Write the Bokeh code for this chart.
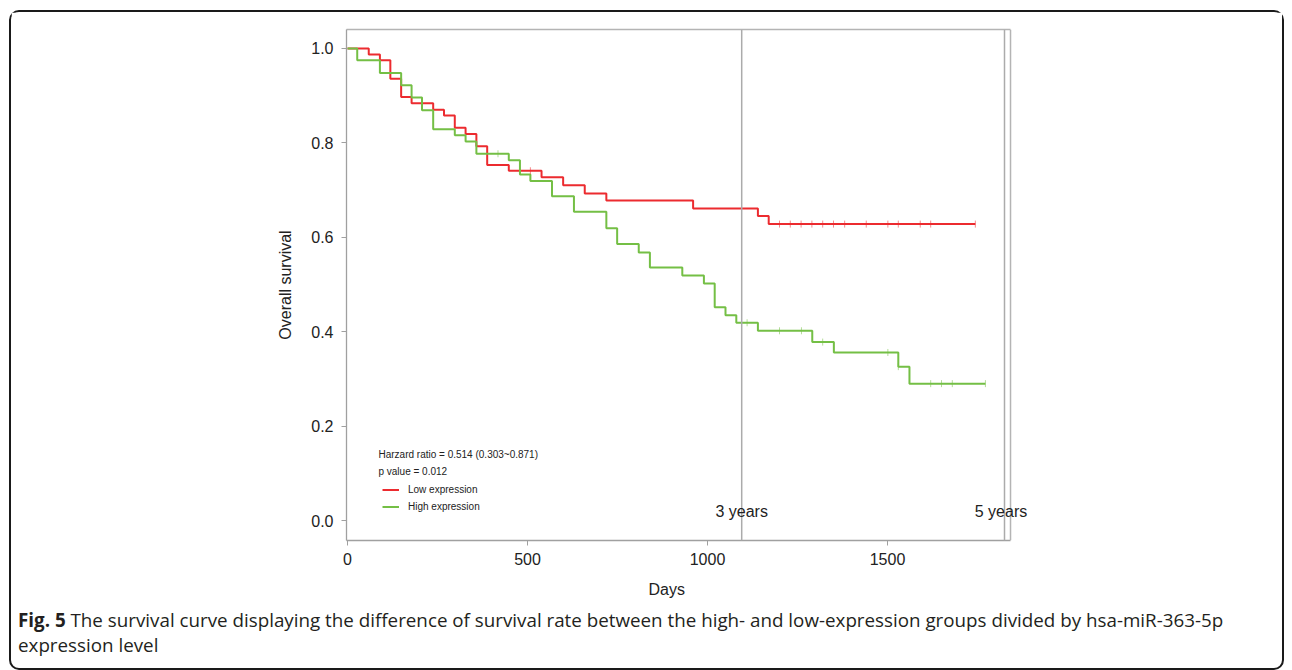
import numpy as np
from bokeh.plotting import figure
from bokeh.models import (Span, Label, Legend, LegendItem, Range1d, PrintfTickFormatter,
                          LinearAxis, FixedTicker, Div, Title)
from bokeh.layouts import column
from bokeh.embed import file_html
from bokeh.resources import INLINE

# ---- data ----
low_times = [0, 59, 90, 119, 149, 178, 238, 268, 298, 328, 358, 388, 448, 539, 599, 659, 719, 960, 1140, 1170, 1744]
low_surv = [1.0, 0.987, 0.975, 0.936, 0.897, 0.884, 0.870, 0.858, 0.832, 0.819, 0.793, 0.753, 0.741, 0.727, 0.710,
            0.693, 0.678, 0.661, 0.645, 0.628, 0.628]
low_censor = [508, 1200, 1230, 1260, 1290, 1320, 1350, 1381, 1441, 1501, 1530, 1591, 1620, 1744]

high_times = [0, 27, 90, 149, 178, 207, 238, 298, 328, 358, 448, 479, 508, 568, 629, 719, 749, 809, 840, 930,
              990, 1020, 1050, 1080, 1140, 1291, 1351, 1530, 1561, 1772]
high_surv = [1.0, 0.975, 0.948, 0.922, 0.896, 0.869, 0.829, 0.816, 0.803, 0.777, 0.763, 0.733, 0.719, 0.687, 0.654,
             0.619, 0.586, 0.568, 0.536, 0.519, 0.502, 0.452, 0.435, 0.419, 0.402, 0.378, 0.356, 0.326, 0.290, 0.290]
high_censor = [418, 1110, 1200, 1261, 1320, 1501, 1530, 1620, 1650, 1680, 1772]

x_ticks = [0, 500, 1000, 1500]
y_ticks = [0.0, 0.2, 0.4, 0.6, 0.8, 1.0]
year_marks = [1095, 1825]
year_labels = ["3 years", "5 years"]
hr_text = "Harzard ratio = 0.514 (0.303~0.871)"
p_text = "p value = 0.012"
caption_bold = "Fig. 5"
caption_line1 = ("The survival curve displaying the difference of survival rate between the high- and "
                 "low-expression groups divided by hsa-miR-363-5p")
caption_line2 = "expression level"

X_START, X_AXIS_END, X_END = -2.8, 1841.7, 1925.0
Y_START, Y_END = -0.0423, 1.0402

RED = "#ec2b2f"
GREEN = "#74bf45"
GRAY = "#ababab"
FRAME = "#b4b4b4"
FONT = "Liberation Sans"


def surv_at(times, surv, ts):
    idx = np.searchsorted(np.array(times), np.array(ts), side="right") - 1
    return [surv[i] for i in idx]


p = figure(width=1271, height=596, output_backend="svg", toolbar_location=None,
           x_range=Range1d(X_START, X_END), y_range=Range1d(Y_START, Y_END),
           min_border_left=335, min_border_right=242, min_border_top=17, min_border_bottom=67)
p.xgrid.visible = False
p.ygrid.visible = False
p.outline_line_color = None

for ax in (p.xaxis, p.yaxis):
    ax.axis_line_color = "#a0a0a0"
    ax.axis_line_width = 1.3
    ax.major_tick_line_color = "#a0a0a0"
    ax.major_tick_out = 5
    ax.major_tick_in = 0
    ax.minor_tick_line_color = None
    ax.major_label_text_font = FONT
    ax.major_label_text_font_size = "16px"
    ax.major_label_text_color = "#222222"
    ax.axis_label_text_font = FONT
    ax.axis_label_text_font_size = "16px"
    ax.axis_label_text_font_style = "normal"
    ax.axis_label_text_color = "#222222"
    ax.axis_label_standoff = 14

p.xaxis.ticker = x_ticks
p.yaxis.ticker = y_ticks
p.xaxis.bounds = (X_START, X_AXIS_END)
p.yaxis.formatter = PrintfTickFormatter(format="%.1f")
p.xaxis.major_label_standoff = 7
p.yaxis.major_label_standoff = 8
p.yaxis.axis_label = "Overall survival"

# x-axis title placed below the axis, centred on the drawn axis rather than the (wider) frame
p.add_layout(Title(text="Days", align="left", offset=302, standoff=22, text_font=FONT,
                   text_font_size="16px", text_font_style="normal", text_color="#222222"), "below")

top = LinearAxis(ticker=FixedTicker(ticks=[]), bounds=(X_START, X_AXIS_END),
                 axis_line_color=FRAME, axis_line_width=1.5, major_tick_line_color=None,
                 minor_tick_line_color=None, major_label_text_font_size="0px")
p.add_layout(top, "above")
p.add_layout(Span(location=X_AXIS_END, dimension="height", line_color=FRAME, line_width=1.5))

for loc in year_marks:
    p.add_layout(Span(location=loc, dimension="height", line_color=GRAY, line_width=1.5))

r_low = p.step(low_times, low_surv, mode="after", line_color=RED, line_width=2)
r_high = p.step(high_times, high_surv, mode="after", line_color=GREEN, line_width=2)
p.scatter(low_censor, surv_at(low_times, low_surv, low_censor), marker="dash", angle=np.pi / 2,
          size=7, line_color=RED, line_alpha=0.55, line_width=1)
p.scatter(high_censor, surv_at(high_times, high_surv, high_censor), marker="dash", angle=np.pi / 2,
          size=7, line_color=GREEN, line_alpha=0.55, line_width=1)

legend = Legend(items=[LegendItem(label="Low expression", renderers=[r_low]),
                       LegendItem(label="High expression", renderers=[r_high])],
                location=(36, 25.5), padding=0, margin=0, spacing=0,
                label_height=17, glyph_height=17, glyph_width=17, label_standoff=9,
                label_text_font=FONT, label_text_font_size="10px", label_text_color="#222222",
                border_line_color=None, background_fill_alpha=0)
p.add_layout(legend)

p.add_layout(Label(x=86, y=0.1395, text=hr_text, text_font=FONT, text_font_size="10px",
                   text_color="#222222", text_baseline="middle"))
p.add_layout(Label(x=86, y=0.1036, text=p_text, text_font=FONT, text_font_size="10px",
                   text_color="#222222", text_baseline="middle"))

p.add_layout(Label(x=year_marks[0], y=0.0197, text=year_labels[0], text_font=FONT, text_font_size="16px",
                   text_color="#222222", text_align="center", text_baseline="middle"))
p.add_layout(Label(x=year_marks[1], y=0.0197, x_offset=-3.5, text=year_labels[1], text_font=FONT,
                   text_font_size="16px", text_color="#222222", text_align="center", text_baseline="middle"))

cap_html = ('<div style="font-family:\'Open Sans\';font-size:18.8px;line-height:25px;color:#231f20;'
            'margin-top:-5px;padding:0 0 0 2px;white-space:nowrap">'
            f'<b>{caption_bold}</b> {caption_line1}<br>{caption_line2}</div>')
cap = Div(text=cap_html, width=1271, height=60)

layout = column(p, cap, spacing=0, margin=(10, 0, 0, 9),
                styles={"border": "2px solid #1a1a1a", "border-radius": "10px", "background": "white",
                        "box-sizing": "border-box", "width": "1275px", "height": "660px"})

open("out.html", "w").write(file_html(layout, INLINE))
